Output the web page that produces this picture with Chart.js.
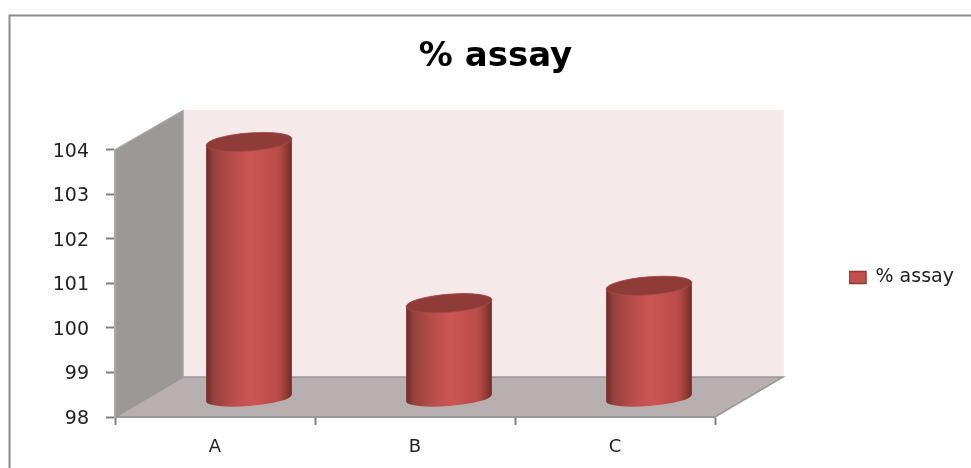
<!DOCTYPE html>
<html>
<head>
<meta charset="utf-8">
<style>
  html, body { margin: 0; padding: 0; background: #fff; overflow: hidden; }
  #wrap { position: relative; width: 971px; height: 468px; }
  canvas { display: block; }
</style>
<script src="https://cdn.jsdelivr.net/npm/chart.js@4"></script>
</head>
<body>
<div id="wrap"><canvas id="assayChart" width="971" height="468"></canvas></div>
<script>
    var categories = ['A', 'B', 'C'];
    var assayValues = [103.76, 100.14, 100.53];
    var seriesName = '% assay';
    var yMin = 98;
    var yMax = 104;

    // depth of the 3D box, in pixels
    var depthX = 68;
    var depthY = -40;

    function polygon(ctx, pts, fill, stroke) {
        ctx.beginPath();
        pts.forEach(function (p, i) {
            if (i === 0) ctx.moveTo(p[0], p[1]); else ctx.lineTo(p[0], p[1]);
        });
        ctx.closePath();
        ctx.fillStyle = fill;
        ctx.fill();
        ctx.strokeStyle = stroke;
        ctx.lineWidth = 1.5;
        ctx.stroke();
    }

    var box3d = {
        id: 'box3d',
        afterUpdate: function (chart) {
            // title centred over the whole frame, legend out to the right
            var title = chart.titleBlock;
            title.left = 20;
            title.right = 971;
            var legend = chart.legend;
            legend.left = 849;
            legend.right = 971;
            legend.top = 268;
            legend.bottom = 292;
            legend.adjustHitBoxes();
        },
        beforeDraw: function (chart) {
            var ctx = chart.ctx;
            var a = chart.chartArea;
            ctx.save();
            // frame around the chart, open on the right and bottom
            ctx.strokeStyle = '#8a8a8a';
            ctx.lineWidth = 2;
            ctx.beginPath();
            ctx.moveTo(9.5, 468);
            ctx.lineTo(9.5, 15.5);
            ctx.lineTo(971, 15.5);
            ctx.stroke();
            // back wall
            polygon(ctx, [[a.left + depthX, a.top + depthY + 1], [a.right + depthX, a.top + depthY + 1],
                [a.right + depthX, a.bottom + depthY], [a.left + depthX, a.bottom + depthY]], '#f5e9e9', '#f5e9e9');
            // side wall
            polygon(ctx, [[a.left, a.top], [a.left + depthX, a.top + depthY + 1],
                [a.left + depthX, a.bottom + depthY], [a.left, a.bottom]], '#9c9898', '#a5a2a2');
            // floor
            polygon(ctx, [[a.left, a.bottom], [a.right, a.bottom],
                [a.right + depthX, a.bottom + depthY], [a.left + depthX, a.bottom + depthY]], '#b8b0b0', '#9a9696');
            ctx.restore();
        },
        beforeDatasetDraw: function (chart, args) {
            var ctx = chart.ctx;
            var tilt = -0.08;
            args.meta.data.forEach(function (bar) {
                var rx = bar.width / 2 + 0.5;
                var cx = bar.x + depthX / 2;
                var top = bar.y + depthY / 2 + 1.5;
                var base = bar.base + depthY / 2 + 1.5;
                var grad = ctx.createLinearGradient(cx - rx, 0, cx + rx, 0);
                grad.addColorStop(0, '#6e2c29');
                grad.addColorStop(0.08, '#93403c');
                grad.addColorStop(0.25, '#b04a47');
                grad.addColorStop(0.52, '#cd5654');
                grad.addColorStop(0.84, '#b94b49');
                grad.addColorStop(0.95, '#8a3834');
                grad.addColorStop(1, '#6e2c29');
                ctx.save();
                ctx.beginPath();
                ctx.ellipse(cx, base, rx, 8, tilt, 0, Math.PI, false);
                ctx.ellipse(cx, top, rx, 9, tilt, Math.PI, Math.PI * 2, false);
                ctx.closePath();
                ctx.fillStyle = grad;
                ctx.fill();
                ctx.beginPath();
                ctx.ellipse(cx, top, rx, 9, tilt, 0, Math.PI * 2);
                ctx.fillStyle = '#8f3b38';
                ctx.fill();
                ctx.strokeStyle = '#a84a48';
                ctx.lineWidth = 0.8;
                ctx.stroke();
                ctx.restore();
            });
            return false;
        }
    };

    new Chart(document.getElementById('assayChart').getContext('2d'), {
        type: 'bar',
        data: {
            labels: categories,
            datasets: [{
                label: seriesName,
                data: assayValues,
                base: yMin,
                backgroundColor: '#c0504d',
                borderColor: '#8c3836',
                borderWidth: 1.5,
                barPercentage: 0.425,
                categoryPercentage: 1
            }]
        },
        options: {
            responsive: false,
            animation: false,
            layout: { padding: { left: 0, right: 256, top: 0, bottom: 0 } },
            scales: {
                x: {
                    afterFit: function (scale) { scale.height = 51; },
                    grid: { drawOnChartArea: false, tickLength: 8, tickColor: '#808080', tickWidth: 2, offset: true },
                    border: { color: '#999999', width: 2 },
                    ticks: { color: '#222', padding: 12, font: { family: 'DejaVu Sans', size: 18 } }
                },
                y: {
                    min: yMin,
                    max: yMax,
                    afterFit: function (scale) { scale.width = 115; },
                    grid: { drawOnChartArea: false, tickLength: 9, tickColor: '#808080', tickWidth: 2 },
                    border: { color: '#a8a8a8', width: 2 },
                    ticks: { color: '#222', stepSize: 1, padding: 17, labelOffset: 2, font: { family: 'DejaVu Sans', size: 19 } }
                }
            },
            plugins: {
                title: {
                    display: true,
                    text: seriesName,
                    color: '#000',
                    padding: { top: 37, bottom: 72 },
                    font: { family: 'DejaVu Sans', size: 34, weight: 'bold' }
                },
                legend: {
                    position: 'chartArea',
                    align: 'start',
                    labels: {
                        boxWidth: 17,
                        boxHeight: 12,
                        padding: 0,
                        color: '#222',
                        font: { family: 'DejaVu Sans', size: 19 }
                    }
                },
                tooltip: { enabled: false }
            }
        },
        plugins: [box3d]
    });
</script>
</body>
</html>
